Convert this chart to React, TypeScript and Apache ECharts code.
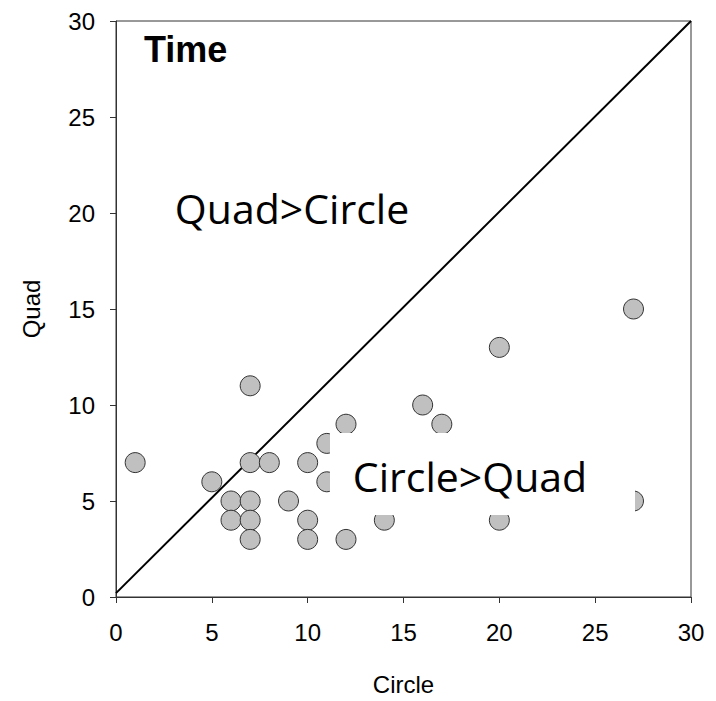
import React, { useEffect, useRef } from "react";
import * as echarts from "echarts";

const circleValues = [1, 5, 6, 6, 7, 7, 7, 7, 7, 8, 9, 10, 10, 10, 11, 11, 12, 12, 14, 16, 17, 20, 20, 27, 27];
const quadValues = [7, 6, 5, 4, 11, 7, 5, 4, 3, 7, 5, 7, 4, 3, 8, 6, 9, 3, 4, 10, 9, 13, 4, 15, 5];
const tickValues = [0, 5, 10, 15, 20, 25, 30];
const equalityLine = [[0, 0.2], [30, 30]];

export default function App() {
  const ref = useRef<HTMLDivElement>(null);
  useEffect(() => {
    if (!ref.current) return;
    const chart = echarts.init(ref.current, undefined, { renderer: "svg" });
    const font = "'Liberation Sans', Arial";
    const axisCommon = {
      type: "value" as const,
      min: tickValues[0],
      max: tickValues[tickValues.length - 1],
      interval: 5,
      splitLine: { show: false },
      axisLine: { show: true, lineStyle: { color: "#333", width: 1 } },
      axisTick: { show: true, inside: false, length: 6, lineStyle: { color: "#333" } },
      nameTextStyle: { color: "#000", fontFamily: font, fontSize: 24 },
      nameLocation: "middle" as const,
    };
    chart.setOption({
      animation: false,
      backgroundColor: "#fff",
      grid: { left: 116, right: 25, top: 21, bottom: 104, show: true, borderColor: "#333", borderWidth: 1 },
      xAxis: {
        ...axisCommon,
        name: "Circle",
        nameGap: 75,
        axisLabel: { color: "#000", fontFamily: font, fontSize: 24, margin: 23 },
      },
      yAxis: {
        ...axisCommon,
        name: "Quad",
        nameGap: 73,
        axisLabel: { color: "#000", fontFamily: font, fontSize: 24, margin: 21 },
      },
      series: [
        {
          type: "line",
          data: equalityLine,
          symbol: "none",
          lineStyle: { color: "#000", width: 2 },
          z: 1,
        },
        {
          type: "scatter",
          data: circleValues.map((c, i) => [c, quadValues[i]]),
          symbol: "circle",
          symbolSize: 20,
          itemStyle: { color: "#c0c0c0", borderColor: "#333", borderWidth: 1, opacity: 1 },
          z: 2,
        },
      ],
      graphic: [
        {
          type: "text",
          left: 144,
          top: 31,
          z: 100,
          style: { text: "Time", font: "bold 36px 'Liberation Sans', Arial", fill: "#000" },
        },
        {
          type: "rect",
          shape: { x: 330, y: 433, width: 305, height: 82 },
          style: { fill: "#fff" },
          z: 100,
        },
        {
          type: "text",
          x: 470,
          y: 476,
          z: 101,
          style: {
            text: "Circle>Quad",
            font: "41px 'Open Sans'",
            fill: "#000",
            align: "center",
            verticalAlign: "middle",
          },
        },
        {
          type: "text",
          x: 292,
          y: 208,
          z: 101,
          style: {
            text: "Quad>Circle",
            font: "41px 'Open Sans'",
            fill: "#000",
            align: "center",
            verticalAlign: "middle",
          },
        },
      ],
    });
    return () => chart.dispose();
  }, []);
  return <div ref={ref} style={{ width: 716, height: 701, position: "absolute", left: 0, top: 0 }} />;
}
